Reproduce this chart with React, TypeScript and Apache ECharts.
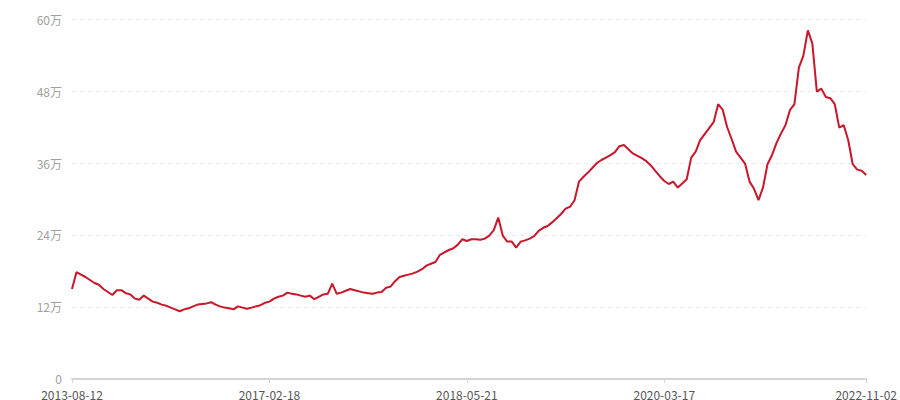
import React, { useEffect, useRef } from "react";
import * as echarts from "echarts";

// Visible date labels on the category axis, with their index in the series
const anchorDates: string[] = ["2013-08-12", "2017-02-18", "2018-05-21", "2020-03-17", "2022-11-02"];
const anchorIndex: number[] = [0, 44, 88, 132, 177];

// Values in 万 (178 points)
const values: number[] = [
  15.0, 17.8, 17.4, 17.0, 16.5, 16.0, 15.7, 15.0, 14.5, 14.0,
  14.8, 14.8, 14.3, 14.1, 13.4, 13.2, 13.9, 13.4, 12.9, 12.7,
  12.4, 12.2, 11.9, 11.6, 11.3, 11.6, 11.8, 12.1, 12.4, 12.5,
  12.6, 12.8, 12.4, 12.1, 11.9, 11.8, 11.6, 12.1, 11.9, 11.7,
  11.9, 12.1, 12.3, 12.7, 12.9, 13.4, 13.7, 13.9, 14.4, 14.2,
  14.1, 13.9, 13.7, 13.9, 13.3, 13.7, 14.1, 14.2, 15.9, 14.2,
  14.4, 14.7, 15.0, 14.8, 14.6, 14.4, 14.3, 14.2, 14.4, 14.5,
  15.2, 15.4, 16.3, 17.0, 17.2, 17.4, 17.6, 17.9, 18.3, 18.9,
  19.2, 19.5, 20.7, 21.1, 21.5, 21.8, 22.4, 23.3, 23.0, 23.3,
  23.3, 23.2, 23.4, 23.9, 24.8, 26.9, 23.9, 22.9, 22.9, 21.9,
  22.9, 23.1, 23.4, 23.8, 24.7, 25.2, 25.5, 26.1, 26.8, 27.5,
  28.4, 28.7, 29.8, 32.9, 33.7, 34.4, 35.2, 36.0, 36.5, 36.9,
  37.3, 37.8, 38.8, 39.0, 38.3, 37.6, 37.2, 36.8, 36.3, 35.6,
  34.7, 33.8, 33.0, 32.5, 32.9, 31.9, 32.6, 33.3, 36.9, 37.9,
  39.8, 40.8, 41.8, 42.8, 45.8, 44.9, 42.0, 40.0, 37.9, 36.9,
  35.9, 32.9, 31.7, 29.8, 31.9, 35.8, 37.3, 39.3, 40.9, 42.3,
  44.8, 45.8, 51.9, 53.9, 58.1, 55.9, 47.9, 48.4, 47.0, 46.8,
  45.8, 41.9, 42.3, 39.8, 35.8, 34.9, 34.7, 34.0,
];

// Y-axis ticks (in 万)
const yMin = 0;
const yMax = 60;
const yStep = 12;

// Category labels: the visible anchor dates, intermediate (unlabelled) dates spaced between them
function buildCategories(): string[] {
  const out: string[] = [];
  for (let a = 0; a < anchorDates.length - 1; a++) {
    const t0 = Date.parse(anchorDates[a] + "T00:00:00Z");
    const t1 = Date.parse(anchorDates[a + 1] + "T00:00:00Z");
    const i0 = anchorIndex[a];
    const i1 = anchorIndex[a + 1];
    for (let i = i0; i < i1; i++) {
      const t = t0 + ((t1 - t0) * (i - i0)) / (i1 - i0);
      out.push(new Date(t).toISOString().slice(0, 10));
    }
  }
  out.push(anchorDates[anchorDates.length - 1]);
  return out;
}
const categories = buildCategories();

const showAt = (index: number) => anchorIndex.indexOf(index) >= 0;

export default function App() {
  const ref = useRef<HTMLDivElement>(null);
  useEffect(() => {
    if (!ref.current) return;
    const chart = echarts.init(ref.current, undefined, { renderer: "svg" });
    chart.setOption({
      animation: false,
      grid: { left: 72, right: 32, top: 19, bottom: 21, containLabel: false },
      xAxis: {
        type: "category",
        data: categories,
        boundaryGap: false,
        axisLine: { lineStyle: { color: "#d4d4d4", width: 2 } },
        axisTick: { show: true, interval: (i: number) => showAt(i), length: 4, lineStyle: { color: "#d4d4d4" } },
        axisLabel: {
          interval: (i: number) => showAt(i),
          color: "#555",
          fontSize: 12,
          margin: 9,
          fontFamily: "'Noto Sans CJK SC', 'Noto Sans', sans-serif",
        },
        splitLine: { show: false },
      },
      yAxis: {
        type: "value",
        min: yMin,
        max: yMax,
        interval: yStep,
        axisLine: { show: false },
        axisTick: { show: false },
        axisLabel: {
          color: "#a0a0a0",
          fontSize: 12,
          margin: 10,
          fontFamily: "'Noto Sans CJK SC', 'Noto Sans', sans-serif",
          formatter: (v: number) => (v === 0 ? "0" : v + "万"),
        },
        splitLine: { show: true, lineStyle: { color: "#ebebeb", type: [4, 4], width: 1 } },
      },
      series: [
        {
          type: "line",
          data: values,
          showSymbol: false,
          symbol: "none",
          lineStyle: { color: "#c8162a", width: 2 },
          itemStyle: { color: "#c8162a" },
        },
      ],
    });
    return () => chart.dispose();
  }, []);
  return <div ref={ref} style={{ width: 900, height: 400, position: "absolute", left: 0, top: 0 }} />;
}
